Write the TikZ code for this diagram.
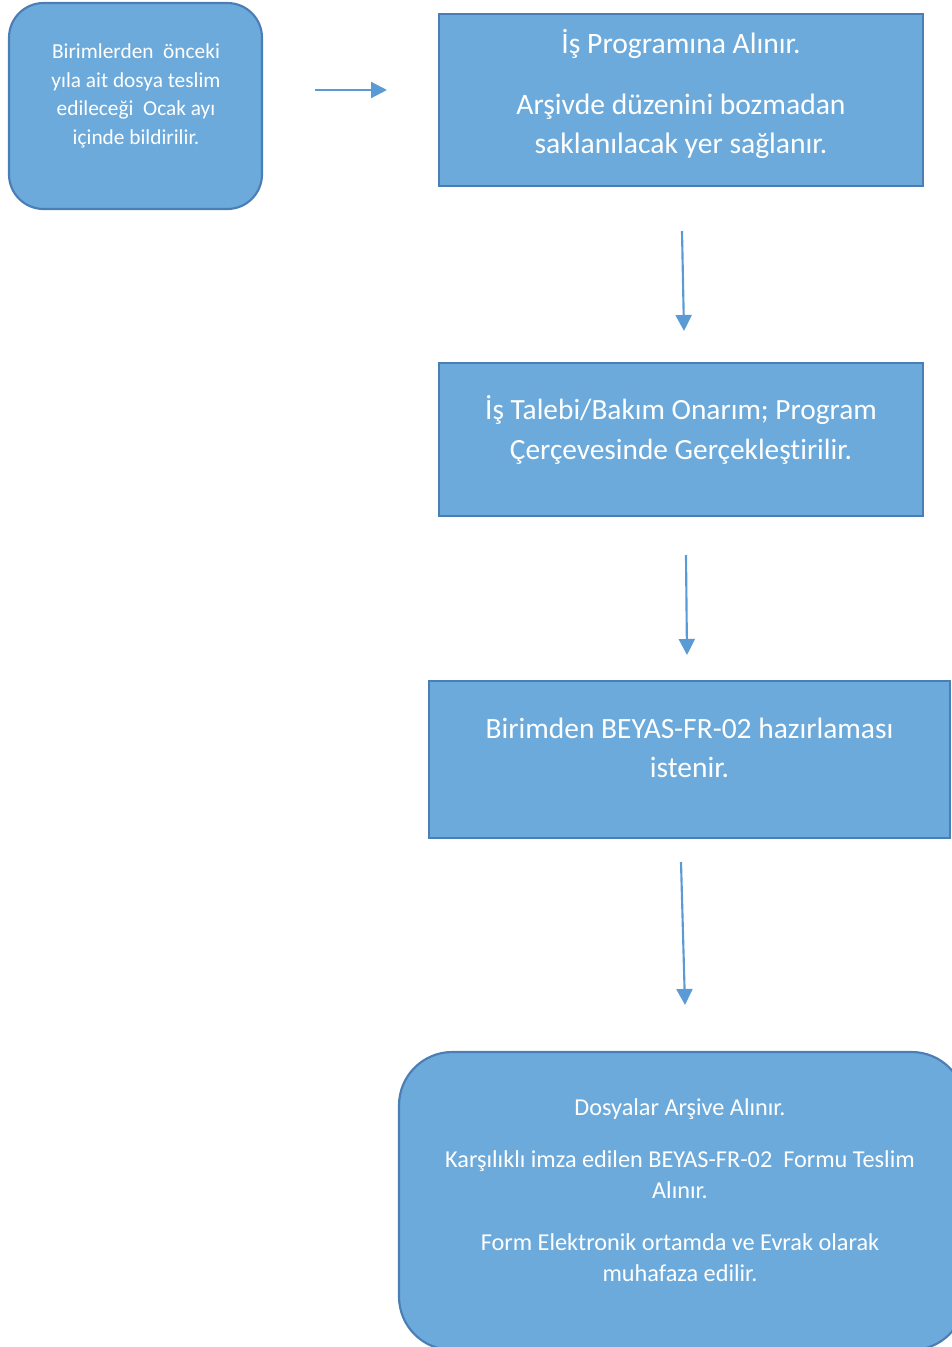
\documentclass[tikz,border=0pt]{standalone}
\usepackage{fontspec}
\setmainfont[Ligatures={NoCommon}]{Carlito}
\usetikzlibrary{arrows.meta}
\definecolor{boxfill}{HTML}{6CAADC}
\definecolor{boxline}{HTML}{4A7EB4}
\definecolor{arrowblue}{HTML}{5B9BD5}

\begin{document}
\begin{tikzpicture}[x=0.75pt, y=-0.75pt,
  flowbox/.style={draw=boxline, fill=boxfill, line width=1.6pt, inner sep=0pt},
  roundbox/.style={flowbox, rounded corners=26pt},
  boxtext/.style={text=white, align=center, inner sep=0pt},
  flowarrow/.style={draw=arrowblue, line width=1.6pt, -{Triangle[length=12pt,width=12pt]}}]
  \clip (0,0) rectangle (952,1347);

  % Boxes
  \node[roundbox, minimum width=189.75pt, minimum height=154.5pt] (bildir) at (135.5,106) {};
  \node[flowbox, minimum width=363pt, minimum height=129pt] (program) at (681,100) {};
  \node[flowbox, minimum width=363pt, minimum height=114.75pt] (talep) at (681,439.5) {};
  \node[flowbox, minimum width=390.75pt, minimum height=117.75pt] (beyas) at (689.5,759.5) {};
  \node[roundbox, rounded corners=40pt, minimum width=424.5pt, minimum height=223.5pt] (arsiv) at (682,1201) {};

  % Box texts
  \node[boxtext, font=\fontsize{16}{21.4}\selectfont] (bildirtxt) at (136,96)
    {Birimlerden\ \ önceki\\ yıla ait dosya teslim\\ edileceği\ \ Ocak ayı\\ içinde bildirilir.};
  \node[boxtext, font=\fontsize{22.2}{29.3}\selectfont] (programtxt) at (681,94)
    {İş Programına Alınır.\\[16pt] Arşivde düzenini bozmadan\\ saklanılacak yer sağlanır.};
  \node[boxtext, font=\fontsize{22}{29.3}\selectfont] (taleptxt) at (681,430)
    {İş Talebi/Bakım Onarım; Program\\ Çerçevesinde Gerçekleştirilir.};
  \node[boxtext, font=\fontsize{22.1}{29.3}\selectfont] (beyastxt) at (689.5,748)
    {Birimden BEYAS-FR-02 hazırlaması\\ istenir.};
  \node[boxtext, font=\fontsize{18.2}{23.2}\selectfont] (arsivtxt) at (680,1190)
    {Dosyalar Arşive Alınır.\\[16pt] Karşılıklı imza edilen BEYAS-FR-02\ \ Formu Teslim\\ Alınır.\\[16pt] Form Elektronik ortamda ve Evrak olarak\\ muhafaza edilir.};

  % Arrow ends
  \coordinate (a1s) at (315,90);
  \coordinate (a1e) at (387,90);
  \coordinate (a2s) at (682,231);
  \coordinate (a2e) at (684,331);
  \coordinate (a3s) at (686,555);
  \coordinate (a3e) at (687,655);
  \coordinate (a4s) at (681,862);
  \coordinate (a4e) at (685,1005);

  \draw[flowarrow] (a1s) -- (a1e);
  \draw[flowarrow] (a2s) -- (a2e);
  \draw[flowarrow] (a3s) -- (a3e);
  \draw[flowarrow] (a4s) -- (a4e);
\end{tikzpicture}
\end{document}
